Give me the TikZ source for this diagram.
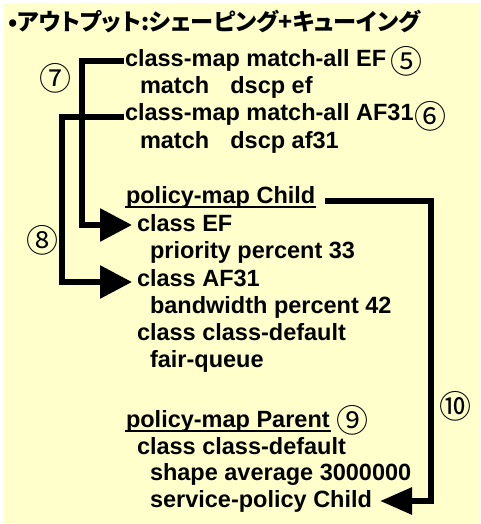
\documentclass[tikz,border=0pt]{standalone}
\usepackage{fontspec}
\setmainfont{Liberation Sans}
\newfontfamily\jpfont[RawFeature=+palt]{Noto Sans CJK JP}
\usetikzlibrary{arrows.meta}
\definecolor{memoColor}{HTML}{FFFFCC}
\newcommand{\cfgfont}{\fontsize{23.5}{27}\selectfont\bfseries}
\newcommand{\numfont}{\fontsize{32}{36}\selectfont\jpfont}
\newcommand{\titlefont}{\fontsize{23.2}{27}\selectfont\jpfont\bfseries}

\begin{document}
\begin{tikzpicture}[x=1pt,y=-1pt,
    cfg/.style={anchor=base west, inner sep=1pt, outer sep=0pt, font=\cfgfont, text height=17pt, text depth=5pt},
    num/.style={inner sep=0pt, font=\numfont},
    conn/.style={line width=6pt, -{Triangle[length=32pt,width=32pt]}, shorten >=4pt},
    ul/.style={line width=1.8pt}]
          \useasboundingbox (0,0) rectangle (480,524);
          \fill[white] (0,0) rectangle (480,524);
          \fill[memoColor] (4,3) rectangle (480,524);
          % title
          \node[anchor=base west, inner sep=0pt, font=\titlefont] (title) at (8,31) {•アウトプット:シェーピング+キューイング};
          % class-map
          \node[cfg] (cmEF) at (124,67) {class-map match-all EF};
          \node[cfg] (mEF) at (139,94) {match\hspace{0.9em}dscp ef};
          \node[cfg] (cmAF) at (124,121) {class-map match-all AF31};
          \node[cfg] (mAF) at (139,148) {match\hspace{0.9em}dscp af31};
          % policy-map Child
          \node[cfg] (pmChild) at (125,203) {policy-map Child};
          \node[cfg] (cEF) at (136,231) {class EF};
          \node[cfg] (prio) at (149,258) {priority percent 33};
          \node[cfg] (cAF) at (136,286) {class AF31};
          \node[cfg] (bw) at (149,313) {bandwidth percent 42};
          \node[cfg] (cDef) at (136,340) {class class-default};
          \node[cfg] (fq) at (149,367) {fair-queue};
          % policy-map Parent
          \node[cfg] (pmParent) at (125,427) {policy-map Parent};
          \node[cfg] (cDefP) at (136,454) {class class-default};
          \node[cfg] (shape) at (149,480) {shape average 3000000};
          \node[cfg] (spChild) at (149,507) {service-policy Child};
          \draw[ul] ([yshift=-4pt]pmChild.base west) -- ([yshift=-4pt]pmChild.base east);
          \draw[ul] ([yshift=-4pt]pmParent.base west) -- ([yshift=-4pt]pmParent.base east);
          % numbers
          \node[num] (n5) at (406,61) {⑤};
          \node[num] (n6) at (430,116) {⑥};
          \node[num] (n7) at (55,78) {⑦};
          \node[num] (n8) at (42,240) {⑧};
          \node[num] (n9) at (352,420) {⑨};
          \node[num] (n10) at (455,406) {⑩};
          % connectors
          \coordinate (barEF) at (82,0);
          \coordinate (barAF) at (62,0);
          \coordinate (barPol) at (431,0);
          \draw[conn] (cmEF.west) -- (cmEF.west -| barEF) |- (cEF.west);
          \draw[conn] ([yshift=-2pt]cmAF.west) -- ([yshift=-2pt]cmAF.west -| barAF) |- ([yshift=-2pt]cAF.west);
          \draw[conn, -{Triangle[length=32pt,width=26pt]}, shorten >=7pt] ([xshift=9pt,yshift=-4pt]pmChild.east) -- ([yshift=-4pt]pmChild.east -| barPol) |- (spChild.east);
        \end{tikzpicture}
\end{document}
